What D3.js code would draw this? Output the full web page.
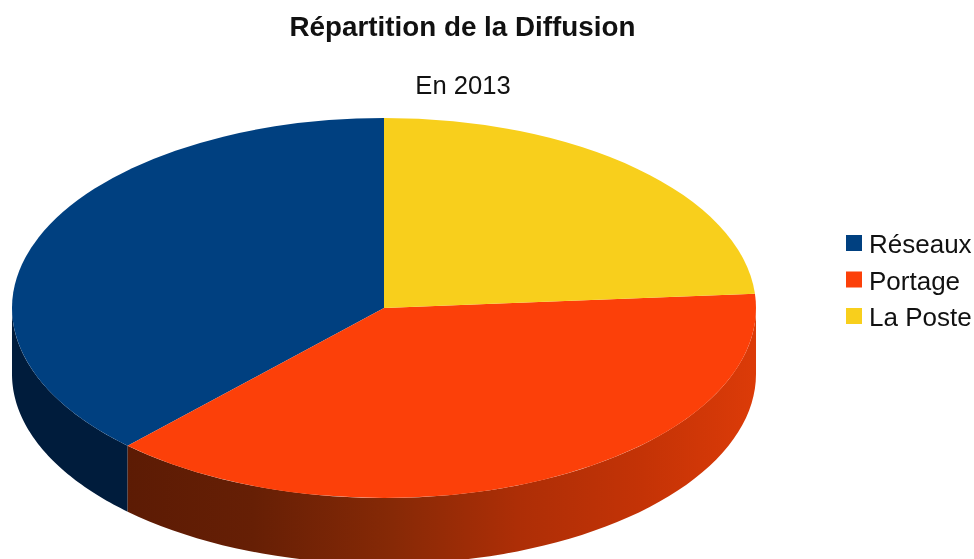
<!DOCTYPE html>
<html><head><meta charset="utf-8">
<script src="https://cdn.jsdelivr.net/npm/d3@7"></script>
<style>html,body{margin:0;padding:0;background:#fff}svg{display:block;filter:blur(0.45px)}text{font-family:"Liberation Sans",Arial,sans-serif;fill:#111}</style>
</head><body><svg id="c" width="974" height="559"></svg>
<script>
const categories = ["Réseaux","Portage","La Poste"];
const values = [37.9,38.3,23.8];
const colors = ["#004080","#fc4009","#f8cf1c"];
const titleText = "Répartition de la Diffusion";
const subtitleText = "En 2013";

const cx=384, cy=308, rx=372, ry=190, depth=66;
const svg=d3.select("#c");
const defs=svg.append("defs");
const grad=defs.append("linearGradient").attr("id","sideOrange").attr("gradientUnits","userSpaceOnUse")
  .attr("x1",127).attr("x2",756).attr("y1",0).attr("y2",0);
[[0,"#5c1b04"],[0.2,"#661f05"],[0.42,"#862906"],[0.62,"#ad2e06"],[0.82,"#c43306"],[1,"#dc3b08"]]
  .forEach(s=>grad.append("stop").attr("offset",s[0]).attr("stop-color",s[1]));
const sideFill=["#001c3c","url(#sideOrange)","#7a6410"];

const slices=d3.pie().sort(null).startAngle(0).endAngle(-2*Math.PI)(values);
const px=a=>cx+rx*Math.sin(a), py=a=>cy-ry*Math.cos(a);

slices.forEach((s,i)=>{
  const a0=s.endAngle,a1=s.startAngle;
  const lo=-3*Math.PI/2, hi=-Math.PI/2; // front half, left tip to right tip
  const from=Math.max(a0,lo), to=Math.min(a1,hi);
  if(from>=to) return;
  const angles=d3.range(0,61).map(k=>from+(to-from)*k/60);
  const top=angles.map(a=>[px(a),py(a)]);
  const bot=angles.slice().reverse().map(a=>[px(a),py(a)+depth]);
  svg.append("path").attr("d",d3.line()(top.concat(bot))+"Z").attr("fill",sideFill[i]);
});
const arc=d3.arc().innerRadius(0).outerRadius(rx);
const topG=svg.append("g").attr("transform",`translate(${cx},${cy}) scale(1,${ry/rx})`);
topG.selectAll("path").data(slices).join("path")
  .attr("d",d=>arc({startAngle:d.endAngle,endAngle:d.startAngle}))
  .attr("fill",(d,i)=>colors[i]);

svg.append("text").attr("x",462.5).attr("y",36).attr("text-anchor","middle")
  .style("font-size","27.8px").style("font-weight","bold").text(titleText);
svg.append("text").attr("x",463).attr("y",94).attr("text-anchor","middle")
  .style("font-size","25.6px").text(subtitleText);

const ly=d3.scalePoint().domain(categories).range([243,316]);
const leg=svg.append("g").selectAll("g").data(categories).join("g");
leg.append("rect").attr("x",846).attr("y",d=>ly(d)-8).attr("width",16).attr("height",16)
  .attr("fill",(d,i)=>colors[i]);
leg.append("text").attr("x",869).attr("y",d=>ly(d)+10).style("font-size","26px").text(d=>d);
</script></body></html>
